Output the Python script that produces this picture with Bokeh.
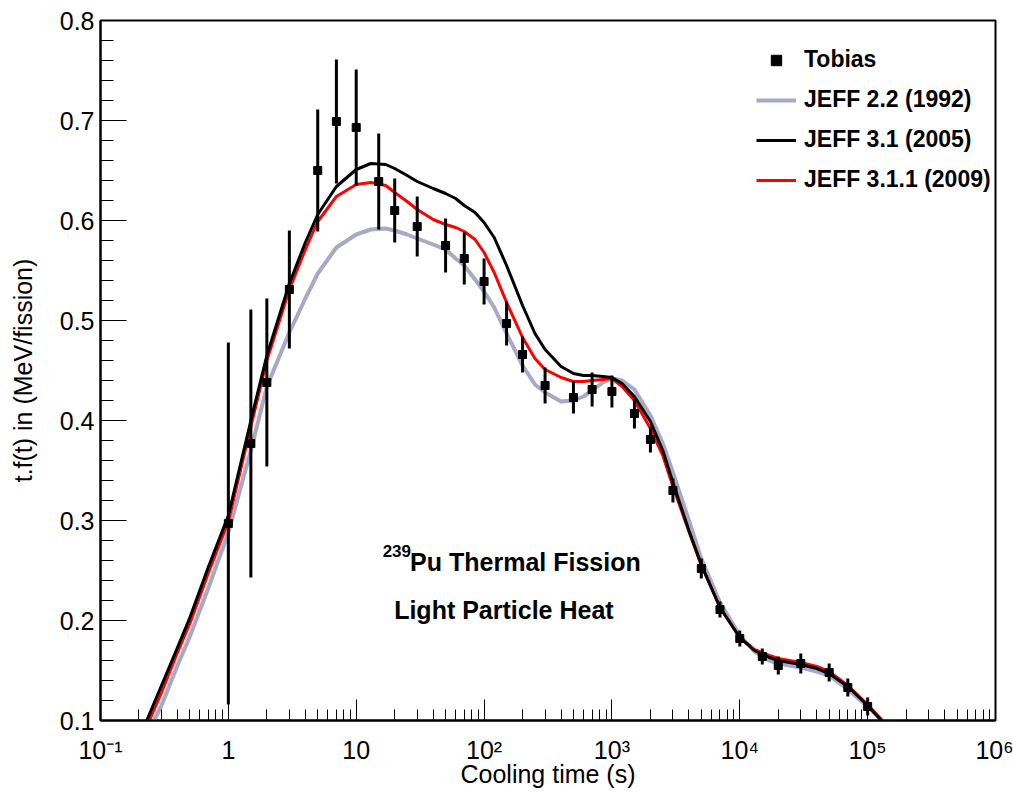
from bokeh.plotting import figure
from bokeh.models import (FixedTicker, CustomJSTickFormatter, Legend, LegendItem, Label,
                          ColumnDataSource)
from bokeh.embed import file_html
from bokeh.resources import INLINE

# ---- Tobias measurement (x: cooling time s, y: t.f(t) MeV/fission, err: half-length of bar)
tobias_t = [1, 1.5, 2, 3, 5, 7, 10, 15, 20, 30, 50, 70, 100, 150, 200, 300, 500, 700,
            1000, 1500, 2000, 3000, 5000, 7000, 1e4, 1.5e4, 2e4, 3e4, 5e4, 7e4, 1e5]
tobias_y = [0.297, 0.377, 0.438, 0.531, 0.650, 0.699, 0.693, 0.639, 0.610, 0.594, 0.575,
            0.562, 0.539, 0.497, 0.466, 0.435, 0.423, 0.431, 0.429, 0.407, 0.381, 0.330,
            0.252, 0.211, 0.182, 0.164, 0.155, 0.157, 0.148, 0.133, 0.114]
tobias_err = [0.181, 0.134, 0.084, 0.059, 0.061, 0.062, 0.058, 0.048, 0.032, 0.030, 0.027,
              0.026, 0.023, 0.022, 0.018, 0.018, 0.016, 0.017, 0.016, 0.015, 0.013, 0.012,
              0.010, 0.008, 0.008, 0.008, 0.009, 0.010, 0.009, 0.009, 0.009]

# ---- evaluation curves
curve_t = [0.23, 0.3, 0.4, 0.5, 0.7, 1, 1.5, 2, 3, 4, 5, 7, 10, 13, 17, 20, 25, 30, 40, 50,
           60, 70, 85, 100, 120, 150, 200, 250, 300, 400, 500, 600, 700, 850, 1000, 1200,
           1500, 2000, 2500, 3000, 4000, 5000, 7000, 1e4, 1.3e4, 1.7e4, 2e4, 3e4, 4e4, 5e4,
           7e4, 1e5, 1.3e5]
jeff22 = [0.085, 0.115, 0.155, 0.184, 0.233, 0.288, 0.370, 0.434, 0.488, 0.522, 0.547,
          0.573, 0.586, 0.591, 0.592, 0.590, 0.586, 0.582, 0.576, 0.571, 0.562, 0.555,
          0.541, 0.529, 0.513, 0.487, 0.455, 0.436, 0.428, 0.419, 0.420, 0.424, 0.430,
          0.438, 0.442, 0.440, 0.431, 0.405, 0.377, 0.348, 0.300, 0.262, 0.218, 0.185,
          0.169, 0.160, 0.157, 0.153, 0.149, 0.145, 0.131, 0.114, 0.100]
jeff31 = [0.100, 0.135, 0.173, 0.203, 0.254, 0.305, 0.400, 0.465, 0.537, 0.578, 0.606,
          0.634, 0.651, 0.657, 0.656, 0.652, 0.645, 0.639, 0.632, 0.627, 0.622, 0.615,
          0.608, 0.598, 0.583, 0.555, 0.515, 0.487, 0.471, 0.454, 0.447, 0.445, 0.445,
          0.444, 0.443, 0.437, 0.424, 0.399, 0.370, 0.338, 0.290, 0.256, 0.213, 0.183,
          0.170, 0.163, 0.160, 0.156, 0.152, 0.147, 0.134, 0.115, 0.099]
jeff311 = [0.094, 0.128, 0.168, 0.197, 0.248, 0.299, 0.394, 0.460, 0.531, 0.571, 0.599,
           0.624, 0.636, 0.638, 0.635, 0.628, 0.619, 0.611, 0.601, 0.596, 0.593, 0.589,
           0.581, 0.568, 0.548, 0.518, 0.483, 0.462, 0.451, 0.443, 0.439, 0.439, 0.440,
           0.441, 0.442, 0.434, 0.420, 0.392, 0.365, 0.334, 0.289, 0.255, 0.213, 0.183,
           0.171, 0.165, 0.162, 0.158, 0.154, 0.149, 0.135, 0.116, 0.100]

y_ticks = [0.1, 0.2, 0.3, 0.4, 0.5, 0.6, 0.7, 0.8]
x_ticks = [1e-1, 1, 10, 1e2, 1e3, 1e4, 1e5, 1e6]

FONT = "Liberation Sans"

p = figure(width=1013, height=792, x_axis_type="log", x_range=(0.1, 1e6), y_range=(0.1, 0.8),
           output_backend="svg", toolbar_location=None,
           min_border_left=100, min_border_right=18, min_border_top=20, min_border_bottom=72)
p.grid.visible = False
p.outline_line_color = "black"
p.outline_line_width = 2
p.outline_line_alpha = 1.0
p.background_fill_color = "white"
p.border_fill_color = "white"

# axes
minor_x = [m * 10.0 ** e for e in range(-1, 6) for m in range(2, 10)]
p.xaxis.ticker = FixedTicker(ticks=x_ticks, minor_ticks=minor_x)
p.xaxis.formatter = CustomJSTickFormatter(code="""
const e = Math.round(Math.log10(tick));
if (e === 0) return "1";
if (e === 1) return "10";
const m = {"-":"\\u207b","0":"\\u2070","1":"\\u00b9","2":"\\u00b2","3":"\\u00b3","4":"\\u2074","5":"\\u2075","6":"\\u2076","7":"\\u2077","8":"\\u2078","9":"\\u2079"};
return "10" + String(e).split("").map(c => m[c]).join("");
""")
minor_y = [round(0.1 + 0.02 * i, 2) for i in range(36)]
p.yaxis.ticker = FixedTicker(ticks=y_ticks, minor_ticks=minor_y)
p.yaxis.formatter = CustomJSTickFormatter(code="return tick.toFixed(1);")

for ax in (p.xaxis[0], p.yaxis[0]):
    ax.axis_line_width = 2
    ax.major_tick_out = 0
    ax.minor_tick_out = 0
    ax.major_tick_line_width = 1
    ax.minor_tick_line_width = 1
    ax.major_label_text_font = FONT
    ax.major_label_text_font_size = "25px"
    ax.major_label_text_color = "black"
    ax.axis_label_text_font = FONT
    ax.axis_label_text_font_size = "25px"
    ax.axis_label_text_font_style = "normal"
    ax.axis_label_text_color = "black"

p.xaxis.major_tick_in = 21
p.xaxis.minor_tick_in = 11
p.yaxis.major_tick_in = 26
p.yaxis.minor_tick_in = 13
p.xaxis.axis_label = "Cooling time (s)"
p.yaxis.axis_label = "t.f(t) in (MeV/fission)"
p.xaxis.major_label_standoff = 15
p.xaxis.axis_label_standoff = -7
p.yaxis.major_label_standoff = 6
p.yaxis.axis_label_standoff = 20

# curves
src = ColumnDataSource(dict(t=curve_t, g=jeff22, b=jeff31, r=jeff311))
r_g = p.line("t", "g", source=src, line_color="#a9a8c6", line_width=4, line_join="round")
r_r = p.line("t", "r", source=src, line_color="#ff0000", line_width=3, line_join="round")
r_b = p.line("t", "b", source=src, line_color="black", line_width=3, line_join="round")

# data points
lo = [y - e for y, e in zip(tobias_y, tobias_err)]
hi = [y + e for y, e in zip(tobias_y, tobias_err)]
dsrc = ColumnDataSource(dict(t=tobias_t, y=tobias_y, lo=lo, hi=hi))
p.segment(x0="t", y0="lo", x1="t", y1="hi", source=dsrc, line_color="black", line_width=3)
r_d = p.scatter("t", "y", source=dsrc, marker="square", size=8, fill_color="black",
                line_color="black")

legend = Legend(items=[
    LegendItem(label="Tobias", renderers=[r_d]),
    LegendItem(label="JEFF 2.2 (1992)", renderers=[r_g]),
    LegendItem(label="JEFF 3.1 (2005)", renderers=[r_b]),
    LegendItem(label="JEFF 3.1.1 (2009)", renderers=[r_r]),
], location=(656, 527))
legend.label_text_font = FONT
legend.label_text_font_size = "23px"
legend.label_text_font_style = "bold"
legend.label_text_color = "black"
legend.glyph_width = 40
legend.glyph_height = 26
legend.label_height = 26
legend.spacing = 13
legend.padding = 0
legend.margin = 0
legend.label_standoff = 8
legend.border_line_alpha = 0
legend.background_fill_alpha = 0
p.add_layout(legend)

# annotation text
p.add_layout(Label(x=16.1, y=0.270, text="239", text_font=FONT, text_font_size="17px",
                   text_font_style="bold", text_color="black", text_align="left",
                   text_baseline="alphabetic"))
p.add_layout(Label(x=26.4, y=0.259, text="Pu Thermal Fission", text_font=FONT,
                   text_font_size="25px", text_font_style="bold", text_color="black",
                   text_align="left", text_baseline="alphabetic"))
p.add_layout(Label(x=19.8, y=0.211, text="Light Particle Heat", text_font=FONT,
                   text_font_size="25px", text_font_style="bold", text_color="black",
                   text_align="left", text_baseline="alphabetic"))

open("out.html", "w").write(file_html(p, INLINE))
